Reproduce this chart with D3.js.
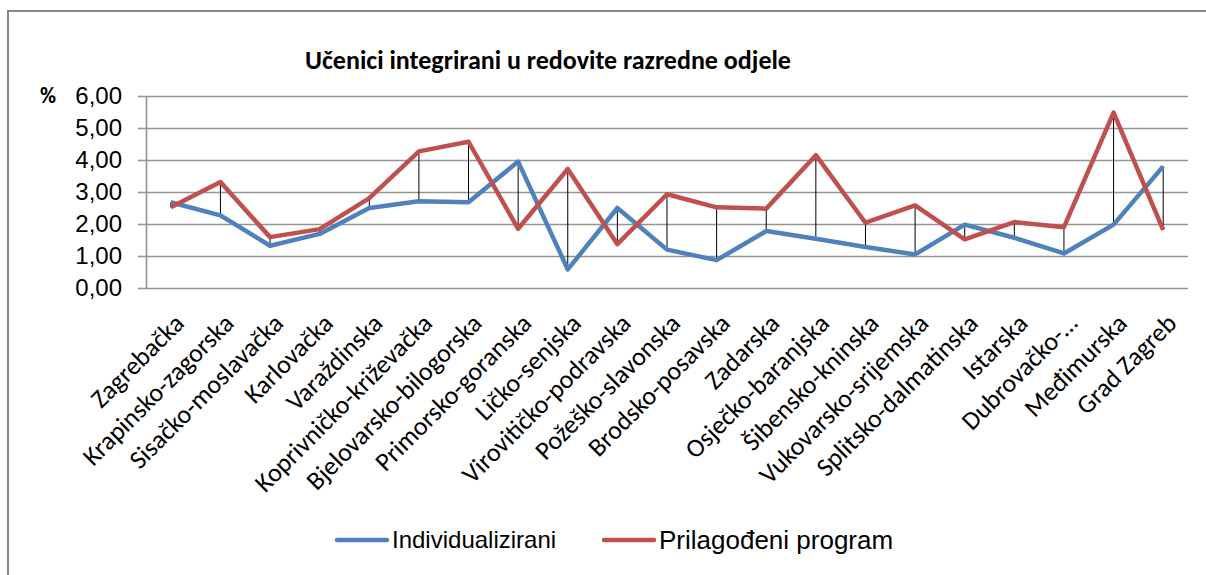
<!DOCTYPE html>
<html>
<head>
<meta charset="utf-8">
<script src="https://cdn.jsdelivr.net/npm/d3@7"></script>
<style>
  body { margin: 0; background: #fff; }
  svg { display: block; font-family: Carlito, Lato, "Open Sans", sans-serif; }
  .grid line { stroke: #949494; stroke-width: 1.6; }
  .grid path { display: none; }
  .y.axis path, .y.axis line { stroke: #949494; stroke-width: 1.6; }
  .y.axis text { font-size: 24px; fill: #000; }
  .line-plot { fill: none; stroke-width: 4.5; stroke-linejoin: round; }
  .hilo { stroke: #000; stroke-width: 1; }
  .cat-label { font-size: 26px; fill: #000; }
  .legend text { font-family: "Liberation Sans", Arial, sans-serif; fill: #000; }
</style>
</head>
<body>
<svg width="1206" height="575"></svg>
<script>
var svg = d3.select('svg');

// categories (as printed on the axis) and the two series, in %
var counties = ['Zagrebačka', 'Krapinsko-zagorska', 'Sisačko-moslavačka', 'Karlovačka',
    'Varaždinska', 'Koprivničko-križevačka', 'Bjelovarsko-bilogorska', 'Primorsko-goranska',
    'Ličko-senjska', 'Virovitičko-podravska', 'Požeško-slavonska', 'Brodsko-posavska',
    'Zadarska', 'Osječko-baranjska', 'Šibensko-kninska', 'Vukovarsko-srijemska',
    'Splitsko-dalmatinska', 'Istarska', 'Dubrovačko-…', 'Međimurska', 'Grad Zagreb'];
var individualizirani = [2.68, 2.27, 1.32, 1.69, 2.50, 2.71, 2.68, 3.95, 0.58, 2.50, 1.20,
    0.87, 1.78, 1.54, 1.28, 1.05, 1.98, 1.57, 1.08, 1.98, 3.80];
var prilagodeni = [2.52, 3.31, 1.59, 1.84, 2.81, 4.27, 4.57, 1.85, 3.72, 1.37, 2.93,
    2.52, 2.48, 4.15, 2.04, 2.58, 1.52, 2.06, 1.90, 5.48, 1.82];
var yTicks = [0, 1, 2, 3, 4, 5, 6];
var seriesNames = ['Individualizirani', 'Prilagođeni program'];
var colors = ['#4F81BD', '#C0504D'];

var plot = {l: 146, r: 1188, t: 96, b: 288};

// outer chart frame (only top and left edges are visible in the crop)
svg.append('path')
    .attr('d', 'M8,575V11H1206')
    .attr('fill', 'none')
    .attr('stroke', '#878787')
    .attr('stroke-width', 2);

var xScale = d3.scaleBand()
    .domain(counties)
    .range([plot.l, plot.r]);

var yScale = d3.scaleLinear()
    .domain([0, 6])
    .range([plot.b, plot.t]);

var comma = d3.formatLocale({decimal: ',', thousands: '.', grouping: [3], currency: ['', '']}).format('.2f');

// horizontal gridlines
svg.append('g')
    .attr('class', 'grid')
    .attr('transform', 'translate(' + plot.l + ',0)')
    .call(d3.axisLeft(yScale).tickValues(yTicks).tickSize(-(plot.r - plot.l)).tickFormat(''));

svg.append('g')
    .attr('class', 'y axis')
    .attr('transform', 'translate(' + plot.l + ',0)')
    .call(d3.axisLeft(yScale).tickValues(yTicks).tickSize(8).tickSizeOuter(0).tickPadding(16).tickFormat(comma));

svg.append('text')
    .attr('x', 40)
    .attr('y', 103)
    .attr('font-size', 22)
    .attr('font-weight', 'bold')
    .text('%');

svg.append('text')
    .attr('x', 305)
    .attr('y', 69)
    .attr('font-size', 26)
    .attr('font-weight', 'bold')
    .text('Učenici integrirani u redovite razredne odjele');

// category labels, rotated
svg.selectAll('.cat-label')
    .data(counties)
    .enter()
    .append('text')
    .attr('class', 'cat-label')
    .attr('text-anchor', 'end')
    .attr('dy', '0.7em')
    .attr('transform', function(d) {
        var cx = xScale(d) + xScale.bandwidth() / 2;
        return 'translate(' + [cx + 2, 312] + ') rotate(-45)';
    })
    .text(function(d) { return d; });

// high-low lines between the two series
svg.selectAll('.hilo')
    .data(counties)
    .enter()
    .append('line')
    .attr('class', 'hilo')
    .attr('x1', function(d) { return xScale(d) + xScale.bandwidth() / 2; })
    .attr('x2', function(d) { return xScale(d) + xScale.bandwidth() / 2; })
    .attr('y1', function(d, i) { return yScale(individualizirani[i]); })
    .attr('y2', function(d, i) { return yScale(prilagodeni[i]); });

var line = d3.line()
    .x(function(d, i) { return xScale(counties[i]) + xScale.bandwidth() / 2; })
    .y(function(d) { return yScale(d); });

svg.selectAll('.line-plot')
    .data([individualizirani, prilagodeni])
    .enter()
    .append('path')
    .attr('class', 'line-plot')
    .attr('d', line)
    .style('stroke', function(d, i) { return colors[i]; });

// legend
var legendItems = [
    {x: 337, size: 24},
    {x: 604, size: 26}
];
var legend = svg.selectAll('.legend')
    .data(seriesNames)
    .enter()
    .append('g')
    .attr('class', 'legend')
    .attr('transform', function(d, i) { return 'translate(' + legendItems[i].x + ',540)'; });

legend.append('line')
    .attr('x1', 0)
    .attr('x2', 50)
    .attr('stroke', function(d, i) { return colors[i]; })
    .attr('stroke-width', 4.5)
    .attr('stroke-linecap', 'round');

legend.append('text')
    .attr('x', 55)
    .attr('dy', '0.35em')
    .attr('font-size', function(d, i) { return legendItems[i].size; })
    .text(function(d) { return d; });
</script>
</body>
</html>
